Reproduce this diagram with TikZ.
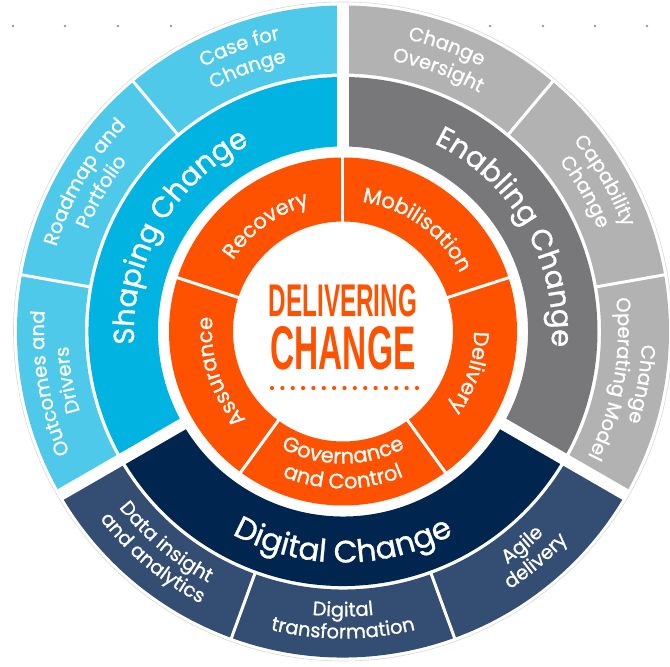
\documentclass[tikz,border=0pt]{standalone}
\usepackage{fontspec}
\usepackage{graphicx}
\setmainfont{Poppins}[UprightFeatures={FakeBold=1}]
\newfontfamily\condfont{Liberation Sans}
\usetikzlibrary{decorations.text}
\definecolor{skyC}{HTML}{4FC9EA}
\definecolor{blueC}{HTML}{00B3E0}
\definecolor{lgrayC}{HTML}{B2B2B2}
\definecolor{dgrayC}{HTML}{78787A}
\definecolor{navyC}{HTML}{00264F}
\definecolor{slateC}{HTML}{334E72}
\definecolor{orngC}{HTML}{FF5200}
\definecolor{dotC}{HTML}{9A9A9A}
\newcommand\ringsector[5]{\fill[#1] (#2:#4pt) arc[start angle=#2,end angle=#3,radius=#4pt] -- (#3:#5pt) arc[start angle=#3,end angle=#2,radius=#5pt] -- cycle;}
\newcommand\arclabel[5]{\path[decorate,decoration={text along path,text align=center,text={|\fontsize{#4}{#4}\selectfont\color{white}|#5}}] (#2:#1pt) arc[start angle=#2,end angle=#3,radius=#1pt];}
\tikzset{gapline/.style={white,line width=12pt},thinline/.style={white,line width=3pt}}
\begin{document}
\begin{tikzpicture}
\useasboundingbox (-343pt,-335.5pt) rectangle (327pt,331.5pt);
\fill[white] (-343pt,-335.5pt) rectangle (327pt,331.5pt);
% page dots
\foreach \x in {-330,-278,-225,-172,147,200,252,304} \fill[dotC] (\x pt,305.5pt) circle (1.3pt);
% faint outer circle
\draw[black!15,line width=0.6pt] (0,0) circle (329.5pt);
% outer ring and middle ring
\ringsector{skyC}{90}{210}{258}{326}
\ringsector{lgrayC}{-30}{90}{258}{326}
\ringsector{slateC}{210}{330}{258}{326}
\ringsector{blueC}{90}{210}{185}{254.5}
\ringsector{dgrayC}{-30}{90}{185}{254.5}
\ringsector{navyC}{210}{330}{185}{254.5}
% gaps
\foreach \a in {90,210,330} \draw[gapline] (\a:180pt) -- (\a:328pt);
\foreach \a in {130,170,50,10,250,290} \draw[thinline] (\a:255pt) -- (\a:328pt);
% orange ring
\fill[orngC,even odd rule] (0,0) circle (174pt) (0,0) circle (110pt);
\foreach \a in {90,18,-54,-126,162} \draw[thinline] (\a:105pt) -- (\a:178pt);
% middle ring labels
\arclabel{209}{207}{93}{29}{Shaping Change}
\arclabel{209}{87}{-27}{29}{Enabling Change}
\arclabel{231}{213}{327}{31}{Digital Change}
% outer ring labels
\arclabel{299}{129.5}{90.5}{19.5}{Case for}
\arclabel{275}{129.5}{90.5}{19.5}{Change}
\arclabel{299}{169.5}{130.5}{19.5}{Roadmap and}
\arclabel{275}{169.5}{130.5}{19.5}{Portfolio}
\arclabel{299}{209.5}{170.5}{19.5}{Outcomes and}
\arclabel{275}{209.5}{170.5}{19.5}{Drivers}
\arclabel{299}{89.5}{50.5}{19.5}{Change}
\arclabel{275}{89.5}{50.5}{19.5}{Oversight}
\arclabel{299}{49.5}{10.5}{19.5}{Capability}
\arclabel{275}{49.5}{10.5}{19.5}{Change}
\arclabel{299}{9.5}{-29.5}{19.5}{Change}
\arclabel{275}{9.5}{-29.5}{19.5}{Operating Model}
\arclabel{285}{210.5}{249.5}{19.5}{Data insight}
\arclabel{307}{210.5}{249.5}{19.5}{and analytics}
\arclabel{285}{250.5}{289.5}{19.5}{Digital}
\arclabel{307}{250.5}{289.5}{19.5}{transformation}
\arclabel{285}{290.5}{329.5}{19.5}{Agile}
\arclabel{307}{290.5}{329.5}{19.5}{delivery}
% orange labels
\arclabel{131}{160}{92}{21}{Recovery}
\arclabel{131}{88}{20}{21}{Mobilisation}
\arclabel{131}{16}{-52}{21}{Delivery}
\arclabel{131}{232}{164}{21}{Assurance}
\arclabel{132}{236}{304}{21}{Governance}
\arclabel{157}{236}{304}{21}{and Control}
% centre
\node[inner sep=0pt,text=orngC] (title1) at (0,30.5pt) {\resizebox{148pt}{32pt}{\condfont\bfseries DELIVERING}};
\node[inner sep=0pt,text=orngC] (title2) at (0,-17pt) {\resizebox{145pt}{43pt}{\condfont\bfseries CHANGE}};
\foreach \i in {0,...,14} \fill[orngC] (-71pt+\i*10.357pt,-56.5pt) circle (2.1pt);
\end{tikzpicture}
\end{document}
